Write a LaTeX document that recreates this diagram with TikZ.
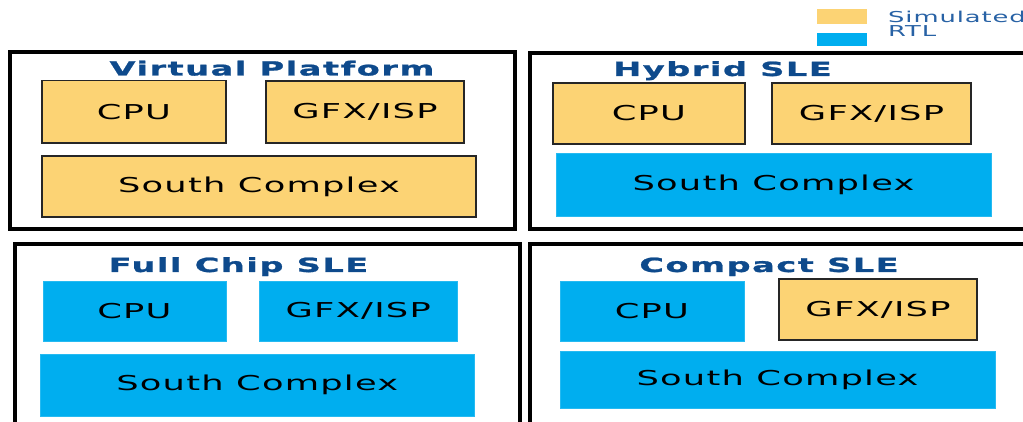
\documentclass[tikz,border=0pt]{standalone}
\usepackage{fontspec}
\setmainfont{DejaVu Sans}
\newfontfamily\blockfont[FakeStretch=1.72,LetterSpace=6]{DejaVu Sans}
\newfontfamily\titlefont[FakeStretch=1.72,LetterSpace=8,FakeBold=1.2]{DejaVu Sans Bold}
\newfontfamily\keyfont[FakeStretch=1.72,LetterSpace=6]{DejaVu Sans}
\definecolor{simfill}{RGB}{252,211,116}
\definecolor{rtlfill}{RGB}{0,174,239}
\definecolor{titleblue}{RGB}{14,74,140}
\definecolor{keyblue}{RGB}{40,98,165}
\tikzset{
  frame/.style={draw=black, line width=4pt},
  blk/.style={inner sep=0pt, outer sep=0pt, anchor=north west,
    font=\blockfont\fontsize{20.5}{24}\selectfont, text=black},
  simblk/.style={blk, fill=simfill, draw=black!85, line width=1.2pt},
  rtlblk/.style={blk, fill=rtlfill, draw=rtlfill!85!white, line width=0.6pt},
  ttl/.style={anchor=base, inner sep=0pt, text=titleblue,
    font=\titlefont\fontsize{19.5}{23}\selectfont},
  keytext/.style={anchor=base west, inner sep=0pt, text=keyblue,
    font=\keyfont\fontsize{15}{18}\selectfont},
}
\begin{document}
\begin{tikzpicture}[x=1pt, y=-1pt]
\clip (0,0) rectangle (1023,422);
\fill[white] (0,0) rectangle (1023,422);

% legend
\node[inner sep=0pt, anchor=north west, fill=simfill, minimum width=50pt, minimum height=15pt] (keysim) at (817,9) {};
\node[inner sep=0pt, anchor=north west, fill=rtlfill, minimum width=50pt, minimum height=13pt] (keyrtl) at (817,33) {};
\node[keytext] (keysimtxt) at (888,23) {Simulated};
\node[keytext] (keyrtltxt) at (888,37) {RTL};

% outer frames
\draw[frame] (10,52) rectangle (515,229.5);
\draw[frame] (529.5,53) rectangle (1040,229.5);
\draw[frame] (14.5,244) rectangle (519.5,440);
\draw[frame] (529.5,244) rectangle (1040,440);

% Virtual Platform
\node[ttl] (vpt) at (272,75.5) {Virtual Platform};
\node[simblk, minimum width=184pt, minimum height=62.5pt] (vpcpu) at (42,80.5) {CPU};
\node[simblk, minimum width=198pt, minimum height=62pt] (vpgfx) at (266,81) {GFX/ISP};
\node[simblk, minimum width=434pt, minimum height=61pt] (vpsc) at (42,156) {South Complex};

% Hybrid SLE
\node[ttl] (hyt) at (722.5,76) {Hybrid SLE};
\node[simblk, minimum width=192pt, minimum height=61pt] (hycpu) at (553,83) {CPU};
\node[simblk, minimum width=199pt, minimum height=61pt] (hygfx) at (772,83) {GFX/ISP};
\node[rtlblk, minimum width=435pt, minimum height=63pt] (hysc) at (556,153) {South Complex};

% Full Chip SLE
\node[ttl] (fct) at (238.5,272) {Full Chip SLE};
\node[rtlblk, minimum width=183pt, minimum height=60.5pt] (fccpu) at (43,281) {CPU};
\node[rtlblk, minimum width=197.5pt, minimum height=60pt] (fcgfx) at (259.5,281) {GFX/ISP};
\node[rtlblk, minimum width=433.5pt, minimum height=62pt] (fcsc) at (40.5,354) {South Complex};

% Compact SLE
\node[ttl] (cpt) at (769,272) {Compact SLE};
\node[rtlblk, minimum width=184pt, minimum height=60pt] (cpcpu) at (560,281) {CPU};
\node[simblk, minimum width=198pt, minimum height=61pt] (cpgfx) at (779,279) {GFX/ISP};
\node[rtlblk, minimum width=435pt, minimum height=57pt] (cpsc) at (560,351) {South Complex};
\end{tikzpicture}
\end{document}
